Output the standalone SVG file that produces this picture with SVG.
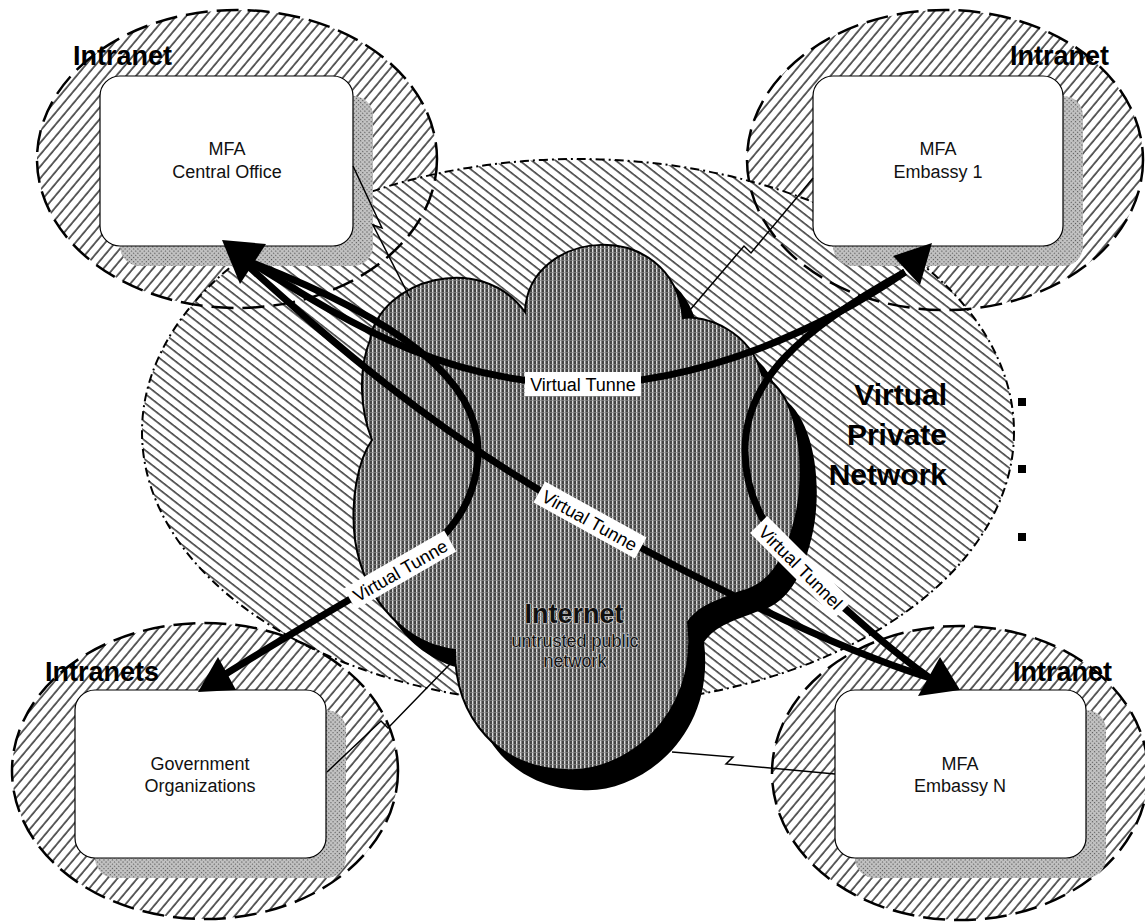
<svg xmlns="http://www.w3.org/2000/svg" width="1145" height="923" viewBox="0 0 1145 923">
  <defs>
    <pattern id="hatchIntra" width="7.6" height="7.6" patternUnits="userSpaceOnUse" patternTransform="rotate(40)">
      <rect width="7.6" height="7.6" fill="#fff"/>
      <line x1="1" y1="0" x2="1" y2="7.6" stroke="#000" stroke-width="1.25"/>
    </pattern>
    <pattern id="hatchVpn" width="7.4" height="7.4" patternUnits="userSpaceOnUse" patternTransform="rotate(-52)">
      <rect width="7.4" height="7.4" fill="#fff"/>
      <line x1="1" y1="0" x2="1" y2="7.4" stroke="#000" stroke-width="1.2"/>
    </pattern>
    <pattern id="cloudTex" width="4" height="4" patternUnits="userSpaceOnUse">
      <rect width="4" height="4" fill="#454545"/>
      <rect x="0" y="0" width="1.4" height="4" fill="#dcdcdc"/>
      <rect x="0" y="0" width="4" height="0.7" fill="#8a8a8a"/>
    </pattern>
    <pattern id="shadeTex" width="3" height="3" patternUnits="userSpaceOnUse" patternTransform="rotate(45)">
      <rect width="3" height="3" fill="#c4c4c4"/>
      <rect x="0" y="0" width="1.2" height="1.2" fill="#555"/>
    </pattern>
    <style>
      .intra-fill { fill: url(#hatchIntra); stroke: none; }
      .intra-line { fill: none; stroke: #000; stroke-width: 2.5; stroke-dasharray: 22 9; }
      .vpn-fill { fill: url(#hatchVpn); stroke: none; }
      .vpn-line { fill: none; stroke: #000; stroke-width: 2; stroke-dasharray: 9 4 2 4; }
      .box { fill: #fff; stroke: #000; stroke-width: 1.2; }
      .shadow { fill: url(#shadeTex); stroke: none; }
      .boxtext { font-family: "Liberation Sans", Arial, sans-serif; font-size: 18px; fill: #111; text-anchor: middle; }
      .zone { font-family: "Liberation Sans", Arial, sans-serif; font-size: 27px; font-weight: bold; fill: #000; }
      .vpntext { font-family: "Liberation Sans", Arial, sans-serif; font-size: 30px; font-weight: bold; fill: #000; text-anchor: end; }
      .tunnel { fill: none; stroke: #000; stroke-width: 7; }
      .arrow { fill: #000; stroke: none; }
      .zig { fill: none; stroke: #000; stroke-width: 1.5; stroke-linejoin: miter; }
      .lbl-bg { fill: #fff; stroke: none; }
      .lbl { font-family: "Liberation Sans", Arial, sans-serif; font-size: 18px; fill: #000; text-anchor: middle; }
      .inet { font-family: "Liberation Sans", Arial, sans-serif; font-weight: bold; font-size: 27px; fill: #111; text-anchor: middle; stroke: #d0d0d0; stroke-width: 1.2; paint-order: stroke; }
      .inet-sub { font-family: "Liberation Sans", Arial, sans-serif; font-size: 18px; fill: #111; text-anchor: middle; stroke: #c8c8c8; stroke-width: 1.2; paint-order: stroke; }
    </style>
  </defs>

  <rect width="1145" height="923" fill="#fff"/>

  <!-- Intranet zone fills -->
  <g id="zones-fill">
    <ellipse class="intra-fill" cx="237" cy="159" rx="200" ry="149"/>
    <ellipse class="intra-fill" cx="945" cy="160" rx="198" ry="150"/>
    <ellipse class="intra-fill" cx="205" cy="771" rx="193" ry="148"/>
    <ellipse class="intra-fill" cx="960" cy="773" rx="188" ry="147"/>
  </g>

  <!-- Virtual Private Network -->
  <g id="node-vpn">
    <ellipse class="vpn-fill" cx="578" cy="432" rx="436" ry="273"/>
    <ellipse class="vpn-line" cx="578" cy="432" rx="436" ry="273"/>
    <text class="vpntext" x="947" y="405">Virtual</text>
    <text class="vpntext" x="947" y="445">Private</text>
    <text class="vpntext" x="947" y="485">Network</text>
    <rect x="1018" y="398" width="8" height="8" fill="#000"/>
    <rect x="1018" y="465" width="8" height="8" fill="#000"/>
    <rect x="1018" y="533" width="8" height="8" fill="#000"/>
  </g>

  <!-- Intranet zone outlines -->
  <g id="zones-outline">
    <ellipse class="intra-line" cx="237" cy="159" rx="200" ry="149"/>
    <ellipse class="intra-line" cx="945" cy="160" rx="198" ry="150"/>
    <ellipse class="intra-line" cx="205" cy="771" rx="193" ry="148"/>
    <ellipse class="intra-line" cx="960" cy="773" rx="188" ry="147"/>
  </g>

  <!-- Internet cloud -->
  <g id="node-internet">
    <path transform="translate(16,20)" fill="#000" d="M 372,440 C 360,410 358,370 370,340 C 380,280 480,250 525,312 C 528,228 672,215 683,318 C 705,315 750,330 762,375 C 800,395 808,470 795,520 C 785,560 770,585 740,592 C 720,600 700,605 688,622 C 700,720 620,775 565,770 C 500,768 455,720 455,650 C 410,645 365,605 355,540 C 350,500 358,460 372,440 Z"/>
    <path fill="url(#cloudTex)" stroke="#000" stroke-width="2" d="M 372,440 C 360,410 358,370 370,340 C 380,280 480,250 525,312 C 528,228 672,215 683,318 C 705,315 750,330 762,375 C 800,395 808,470 795,520 C 785,560 770,585 740,592 C 720,600 700,605 688,622 C 700,720 620,775 565,770 C 500,768 455,720 455,650 C 410,645 365,605 355,540 C 350,500 358,460 372,440 Z"/>
    <text class="inet" x="574" y="623">Internet</text>
    <text class="inet-sub" x="575" y="647">untrusted public</text>
    <text class="inet-sub" x="575" y="667">network</text>
  </g>

  <!-- Node boxes -->
  <g id="node-central-office">
    <text class="zone" x="73" y="65">Intranet</text>
    <rect class="shadow" x="120" y="96" width="253" height="170" rx="20"/>
    <rect class="box" x="100" y="76" width="253" height="170" rx="20"/>
    <text class="boxtext" x="227" y="155">MFA</text>
    <text class="boxtext" x="227" y="178">Central Office</text>
  </g>
  <g id="node-embassy-1">
    <text class="zone" x="1010" y="65">Intranet</text>
    <rect class="shadow" x="833" y="96" width="250" height="170" rx="20"/>
    <rect class="box" x="813" y="76" width="250" height="170" rx="20"/>
    <text class="boxtext" x="938" y="155">MFA</text>
    <text class="boxtext" x="938" y="178">Embassy 1</text>
  </g>
  <g id="node-government">
    <text class="zone" x="45" y="681">Intranets</text>
    <rect class="shadow" x="95" y="710" width="251" height="168" rx="20"/>
    <rect class="box" x="75" y="690" width="251" height="168" rx="20"/>
    <text class="boxtext" x="200" y="770">Government</text>
    <text class="boxtext" x="200" y="792">Organizations</text>
  </g>
  <g id="node-embassy-n">
    <text class="zone" x="1013" y="681">Intranet</text>
    <rect class="shadow" x="855" y="710" width="251" height="168" rx="20"/>
    <rect class="box" x="835" y="690" width="251" height="168" rx="20"/>
    <text class="boxtext" x="960" y="770">MFA</text>
    <text class="boxtext" x="960" y="792">Embassy N</text>
  </g>

  <!-- Connectors -->
  <g id="connectors">
    <!-- physical links (lightning) -->
    <polyline class="zig" points="353,166 382,228 373,225 410,298"/>
    <polyline class="zig" points="690,310 744,246 751,253 813,178"/>
    <polyline class="zig" points="327,772 381,721 388,728 452,662"/>
    <polyline class="zig" points="672,752 733,757 726,764 835,774"/>

    <!-- virtual tunnels -->
    <path class="tunnel" d="M 250,262 C 360,330 450,384 583,384 C 700,384 820,330 905,272"/>
    <path class="tunnel" d="M 248,266 C 330,340 430,430 590,520 C 720,592 840,650 930,678"/>
    <path class="tunnel" d="M 250,262 C 400,320 478,380 478,450 C 478,500 450,540 400,570 C 340,605 280,640 224,675"/>
    <path class="tunnel" d="M 905,272 C 800,330 745,380 745,450 C 745,500 770,537 801,567 C 840,605 890,650 930,678"/>

    <polygon class="arrow" points="222,240 266,244 240,284"/>
    <polygon class="arrow" points="932,243 893,256 920,285"/>
    <polygon class="arrow" points="960,690 918,696 940,657"/>
    <polygon class="arrow" points="198,692 236,690 218,657"/>

    <g>
      <rect class="lbl-bg" x="525" y="372" width="116" height="24"/>
      <text class="lbl" x="583" y="391">Virtual Tunne</text>
    </g>
    <g transform="rotate(29 590 520)">
      <rect class="lbl-bg" x="532" y="508" width="116" height="24"/>
      <text class="lbl" x="590" y="527">Virtual Tunne</text>
    </g>
    <g transform="rotate(-30 400 570)">
      <rect class="lbl-bg" x="342" y="558" width="116" height="24"/>
      <text class="lbl" x="400" y="577">Virtual Tunne</text>
    </g>
    <g transform="rotate(45 801 567)">
      <rect class="lbl-bg" x="741" y="555" width="120" height="24"/>
      <text class="lbl" x="801" y="574">Virtual Tunnel</text>
    </g>
  </g>
</svg>
